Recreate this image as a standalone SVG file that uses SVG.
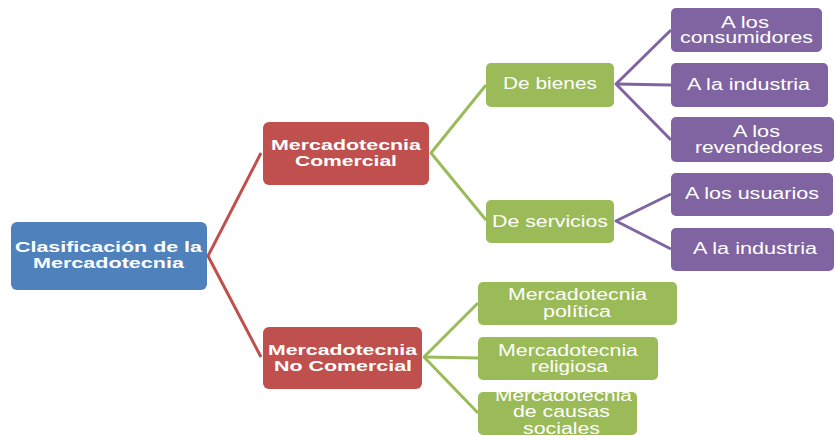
<svg xmlns="http://www.w3.org/2000/svg" width="835" height="436" viewBox="0 0 835 436">
<style>
.t{font-family:"Liberation Sans",Arial,sans-serif;fill:#fff;font-size:16px}
.b{font-weight:bold;font-size:15px}
.blue{fill:#4F81BD}
.red{fill:#C0504D}
.green{fill:#9BBB59}
.purple{fill:#8064A2}
.c{fill:none;stroke-width:3;stroke-linejoin:round}
</style>
<rect width="835" height="436" fill="#fff"/>
<g id="connectors">
<polyline class="c" stroke="#C0504D" points="261,153 208,256 261,357"/>
<polyline class="c" stroke="#9BBB59" points="486,85 431,153 486,220"/>
<polyline class="c" stroke="#8064A2" points="671,30 616,84 671,140"/>
<line class="c" stroke="#8064A2" x1="616" y1="84" x2="671" y2="85"/>
<polyline class="c" stroke="#8064A2" points="671,194 616,221 671,249"/>
<polyline class="c" stroke="#9BBB59" points="478,303 424,357 478,413"/>
<line class="c" stroke="#9BBB59" x1="424" y1="357" x2="478" y2="358"/>
</g>
<g id="root">
<rect class="blue" x="11" y="222" width="196" height="68" rx="6"/>
<text class="t b" x="15" y="252" textLength="187" lengthAdjust="spacingAndGlyphs">Clasificación de la</text>
<text class="t b" x="33" y="268" textLength="151" lengthAdjust="spacingAndGlyphs">Mercadotecnia</text>
</g>
<g id="comercial">
<rect class="red" x="263" y="122" width="166" height="63" rx="6"/>
<text class="t b" x="271" y="150" textLength="150" lengthAdjust="spacingAndGlyphs">Mercadotecnia</text>
<text class="t b" x="295" y="166" textLength="102" lengthAdjust="spacingAndGlyphs">Comercial</text>
</g>
<g id="nocomercial">
<rect class="red" x="263" y="327" width="159" height="62" rx="6"/>
<text class="t b" x="268" y="355" textLength="149" lengthAdjust="spacingAndGlyphs">Mercadotecnia</text>
<text class="t b" x="274" y="371" textLength="138" lengthAdjust="spacingAndGlyphs">No Comercial</text>
</g>
<g id="bienes">
<rect class="green" x="486" y="63" width="128" height="44" rx="5"/>
<text class="t" x="503" y="89" textLength="94" lengthAdjust="spacingAndGlyphs">De bienes</text>
</g>
<g id="servicios">
<rect class="green" x="486" y="200" width="128" height="43" rx="5"/>
<text class="t" x="492" y="227" textLength="116" lengthAdjust="spacingAndGlyphs">De servicios</text>
</g>
<g id="consumidores">
<rect class="purple" x="671" y="8" width="151" height="44" rx="5"/>
<text class="t" x="721" y="28" textLength="48" lengthAdjust="spacingAndGlyphs">A los</text>
<text class="t" x="680" y="43" textLength="133" lengthAdjust="spacingAndGlyphs">consumidores</text>
</g>
<g id="industria1">
<rect class="purple" x="671" y="63" width="157" height="44" rx="5"/>
<text class="t" x="687" y="90" textLength="123" lengthAdjust="spacingAndGlyphs">A la industria</text>
</g>
<g id="revendedores">
<rect class="purple" x="671" y="117" width="163" height="45" rx="5"/>
<text class="t" x="733" y="137" textLength="47" lengthAdjust="spacingAndGlyphs">A los</text>
<text class="t" x="695" y="153" textLength="128" lengthAdjust="spacingAndGlyphs">revendedores</text>
</g>
<g id="usuarios">
<rect class="purple" x="671" y="173" width="162" height="43" rx="5"/>
<text class="t" x="685" y="199" textLength="134" lengthAdjust="spacingAndGlyphs">A los usuarios</text>
</g>
<g id="industria2">
<rect class="purple" x="671" y="228" width="163" height="43" rx="5"/>
<text class="t" x="693" y="254" textLength="124" lengthAdjust="spacingAndGlyphs">A la industria</text>
</g>
<g id="politica">
<rect class="green" x="478" y="282" width="199" height="43" rx="5"/>
<text class="t" x="508" y="300" textLength="139" lengthAdjust="spacingAndGlyphs">Mercadotecnia</text>
<text class="t" x="543" y="317" textLength="68" lengthAdjust="spacingAndGlyphs">política</text>
</g>
<g id="religiosa">
<rect class="green" x="478" y="337" width="180" height="43" rx="5"/>
<text class="t" x="498" y="356" textLength="140" lengthAdjust="spacingAndGlyphs">Mercadotecnia</text>
<text class="t" x="531" y="372" textLength="77" lengthAdjust="spacingAndGlyphs">religiosa</text>
</g>
<g id="causas">
<rect class="green" x="478" y="392" width="159" height="43" rx="5"/>
<text class="t" x="495" y="401" textLength="137" lengthAdjust="spacingAndGlyphs">Mercadotecnia</text>
<text class="t" x="513" y="417" textLength="97" lengthAdjust="spacingAndGlyphs">de causas</text>
<text class="t" x="523" y="434" textLength="77" lengthAdjust="spacingAndGlyphs">sociales</text>
</g>
</svg>
